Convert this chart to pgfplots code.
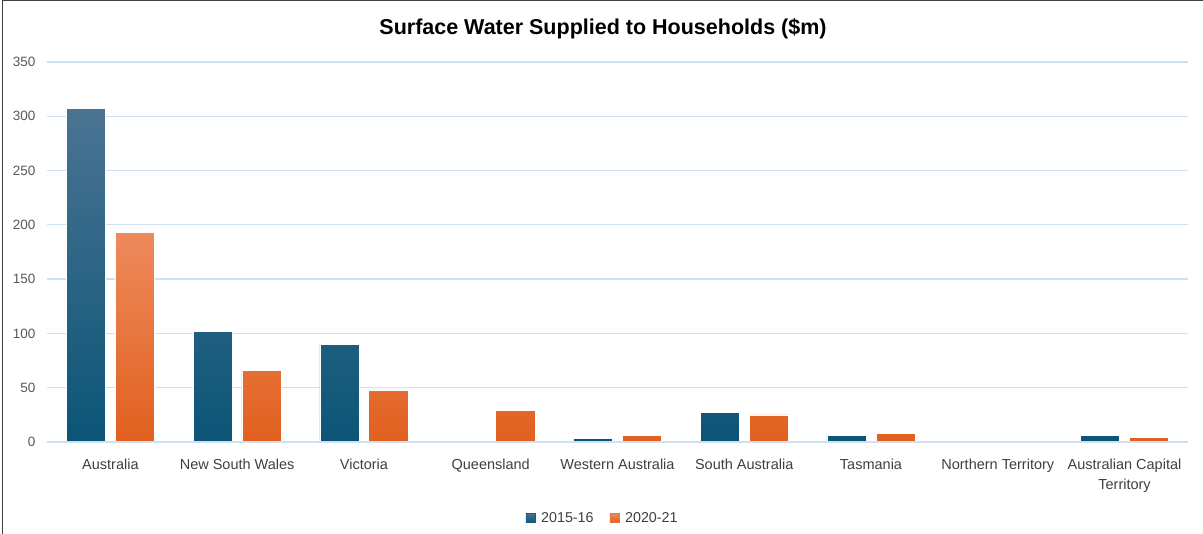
\documentclass[border=0pt]{standalone}
\usepackage{pgfplots}
\pgfplotsset{compat=1.18}
\usepackage{fontspec}
\setmainfont{Liberation Sans}

\definecolor{gridc}{HTML}{D0E0F0}
\definecolor{tickc}{HTML}{595959}
\definecolor{labc}{HTML}{404040}
\definecolor{blueT}{HTML}{4B7392}
\definecolor{blueM}{HTML}{12628A}
\definecolor{blueB}{HTML}{0B5577}
\definecolor{blueL}{HTML}{156082}
\definecolor{orT}{HTML}{EE8A5C}
\definecolor{orM}{HTML}{F07131}
\definecolor{orB}{HTML}{E1601F}
\definecolor{orL}{HTML}{F07030}
\definecolor{framec}{HTML}{404040}

% values in $m; categories plotted at 0..8
\pgfplotstableread{
x y
0 307
1 102
2 90
3 0
4 3
5 27
6 6
7 0
8 6
}\earlier
\pgfplotstableread{
x y
0 193
1 66
2 48
3 29
4 6
5 25
6 8
7 0
8 4
}\later

\begin{document}
\begin{tikzpicture}
\useasboundingbox (0pt,0pt) rectangle (1203pt,534pt);
\fill[white] (0pt,0pt) rectangle (1203pt,534pt);
\begin{axis}[
  at={(47pt,92pt)}, anchor=south west,
  scale only axis, width=1141pt, height=380pt,
  xmin=-0.5, xmax=8.5, ymin=0, ymax=350,
  ytick={0,50,...,350},
  xtick={0,...,8},
  xticklabels={Australia,New South Wales,Victoria,Queensland,Western Australia,South Australia,Tasmania,Northern Territory,{Australian Capital\\Territory}},
  xticklabel style={align=center, font=\fontsize{14.5}{20}\selectfont, text=labc, yshift=-13pt},
  yticklabel style={font=\fontsize{13.5}{16}\selectfont, text=tickc, xshift=-8pt},
  /pgf/number format/assume math mode=true,
  major tick length=0pt,
  axis line style={draw=none},
  ymajorgrids, grid style={gridc, line width=1.3pt},
  ybar, bar width=0.31,
  legend style={at={(0.487,-0.2)}, anchor=center, legend columns=2, draw=none,
    font=\fontsize{14.3}{16}\selectfont, text=labc,
    /tikz/every odd column/.append style={column sep=4pt},
    /tikz/every even column/.append style={column sep=14pt}},
  legend cell align=left,
]
\addplot[bar shift=-0.193, draw=white, line width=0.5pt,
  top color=blueT, middle color=blueM, bottom color=blueB,
  legend image code/.code={\fill[blueL] (0pt,-4.5pt) rectangle (9pt,4.5pt);}]
  table[x=x,y=y] {\earlier};
\addlegendentry{2015-16}
\addplot[bar shift=0.193, draw=white, line width=0.5pt,
  top color=orT, middle color=orM, bottom color=orB,
  legend image code/.code={\fill[orL] (0pt,-4.5pt) rectangle (9pt,4.5pt);}]
  table[x=x,y=y] {\later};
\addlegendentry{2020-21}
\draw[gridc, line width=1.3pt] (axis cs:-0.5,0) -- (axis cs:8.5,0);
\end{axis}
\node[font=\bfseries\fontsize{21.5}{24}\selectfont, anchor=center] at (603pt,505pt) {Surface Water Supplied to Households (\$m)};
\draw[framec, line width=1.5pt] (2.5pt,0pt) -- (2.5pt,533.25pt) -- (1203pt,533.25pt);
\end{tikzpicture}
\end{document}
